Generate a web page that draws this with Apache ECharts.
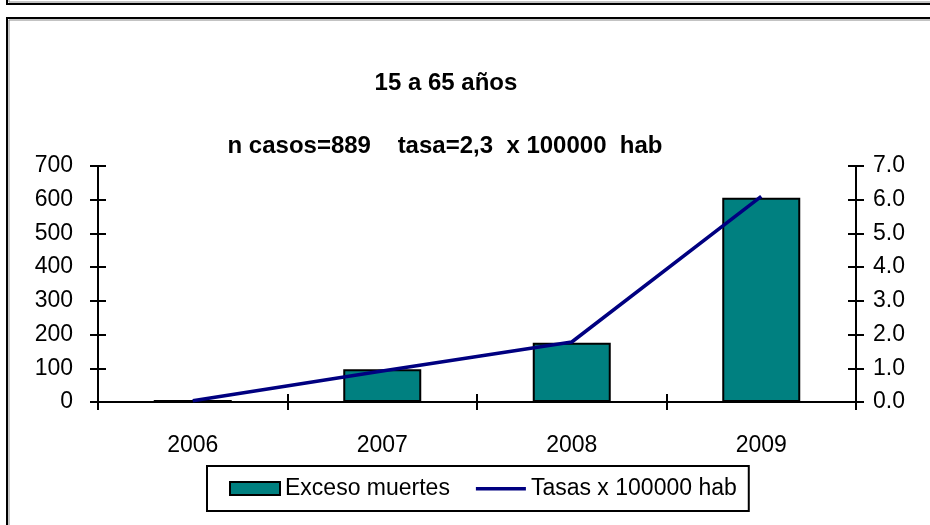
<!DOCTYPE html>
<html>
<head>
<meta charset="utf-8">
<script src="https://cdn.jsdelivr.net/npm/echarts@6/dist/echarts.min.js"></script>
<style>
  html, body { margin: 0; padding: 0; background: #fff; }
  #chart { width: 930px; height: 525px; }
</style>
</head>
<body>
<div id="chart"></div>
<script>
const years = ['2006', '2007', '2008', '2009'];
const excesoMuertes = [6, 97, 176, 606];
const tasas = [0.04, 0.92, 1.78, 6.1];
const leftTicks = [0, 100, 200, 300, 400, 500, 600, 700];
const rightTicks = [0, 1, 2, 3, 4, 5, 6, 7];

const FONT = '"Liberation Sans", Arial, sans-serif';
const BAR_NAME = 'Exceso muertes';
const LINE_NAME = 'Tasas x 100000 hab';

const chart = echarts.init(document.getElementById('chart'), null, { renderer: 'canvas' });

const axisLine = { show: true, lineStyle: { color: '#000', width: 2 } };
const tickOut = { show: true, inside: false, length: 8, lineStyle: { color: '#000', width: 2 } };
const tickIn = { show: true, inside: true, length: 8, lineStyle: { color: '#000', width: 2 } };

const option = {
  animation: false,
  backgroundColor: '#fff',
  textStyle: { fontFamily: FONT },
  title: [
    {
      text: '15 a 65 años',
      left: 441, top: 66, textAlign: 'center',
      textStyle: { fontFamily: FONT, fontSize: 24, fontWeight: 'bold', color: '#000' },
    },
    {
      text: 'n casos=889    tasa=2,3  x 100000  hab',
      left: 440, top: 129, textAlign: 'center',
      textStyle: { fontFamily: FONT, fontSize: 24, fontWeight: 'bold', color: '#000' },
    },
  ],
  legend: {
    left: 207, top: 466,
    padding: [11, 12, 11, 22],
    borderColor: '#000', borderWidth: 2,
    itemWidth: 50, itemHeight: 13, itemGap: 26,
    textStyle: { fontFamily: FONT, fontSize: 23, color: '#000' },
    data: [
      { name: BAR_NAME, icon: 'rect' },
      { name: LINE_NAME, icon: 'path://M0,0 M52,13 M0,5 L52,5 L52,8.5 L0,8.5 Z', itemStyle: { color: '#000080', borderWidth: 0 } },
    ],
  },
  grid: { left: 98, right: 74, top: 166, bottom: 123 },
  xAxis: [
    {
      type: 'category', data: years,
      axisLine: axisLine,
      axisTick: tickOut,
      axisLabel: { fontFamily: FONT, fontSize: 23, color: '#000', margin: 32 },
    },
    {
      type: 'category', data: years, position: 'bottom',
      axisLine: { show: false }, axisTick: tickIn, axisLabel: { show: false },
    },
  ],
  yAxis: [
    {
      type: 'value', min: 0, max: leftTicks[leftTicks.length - 1], interval: 100,
      position: 'left',
      axisLine: axisLine, axisTick: tickOut, splitLine: { show: false },
      axisLabel: { fontFamily: FONT, fontSize: 23, color: '#000', margin: 25 },
    },
    {
      type: 'value', min: 0, max: rightTicks[rightTicks.length - 1], interval: 1,
      position: 'right',
      axisLine: axisLine, axisTick: tickOut, splitLine: { show: false },
      axisLabel: {
        fontFamily: FONT, fontSize: 23, color: '#000', margin: 17,
        formatter: (v) => v.toFixed(1),
      },
    },
    {
      type: 'value', min: 0, max: 700, interval: 100, position: 'left',
      axisLine: { show: false }, axisTick: tickIn, axisLabel: { show: false }, splitLine: { show: false },
    },
    {
      type: 'value', min: 0, max: 7, interval: 1, position: 'right',
      axisLine: { show: false }, axisTick: tickIn, axisLabel: { show: false }, splitLine: { show: false },
    },
  ],
  series: [
    {
      name: BAR_NAME, type: 'bar', data: excesoMuertes,
      xAxisIndex: 0, yAxisIndex: 0,
      barWidth: 78,
      itemStyle: { color: '#008080', borderColor: '#000', borderWidth: 2 },
    },
    {
      name: LINE_NAME, type: 'line', data: tasas,
      xAxisIndex: 0, yAxisIndex: 1,
      symbol: 'none',
      lineStyle: { color: '#000080', width: 3.5 },
      itemStyle: { color: '#000080' },
      z: 5,
    },
  ],
  graphic: [
    {
      type: 'rect', shape: { x: 7, y: -20, width: 940, height: 24 },
      style: { fill: 'none', stroke: '#000', lineWidth: 2 },
    },
    {
      type: 'rect', shape: { x: 9, y: -20, width: 940, height: 22 },
      style: { fill: 'none', stroke: '#888', lineWidth: 1 },
    },
    {
      type: 'rect', shape: { x: 7, y: 18, width: 940, height: 540 },
      style: { fill: 'none', stroke: '#000', lineWidth: 2 },
    },
    {
      type: 'rect', shape: { x: 9, y: 20, width: 940, height: 540 },
      style: { fill: 'none', stroke: '#888', lineWidth: 1 },
    },
  ],
};

chart.setOption(option);
</script>
</body>
</html>
